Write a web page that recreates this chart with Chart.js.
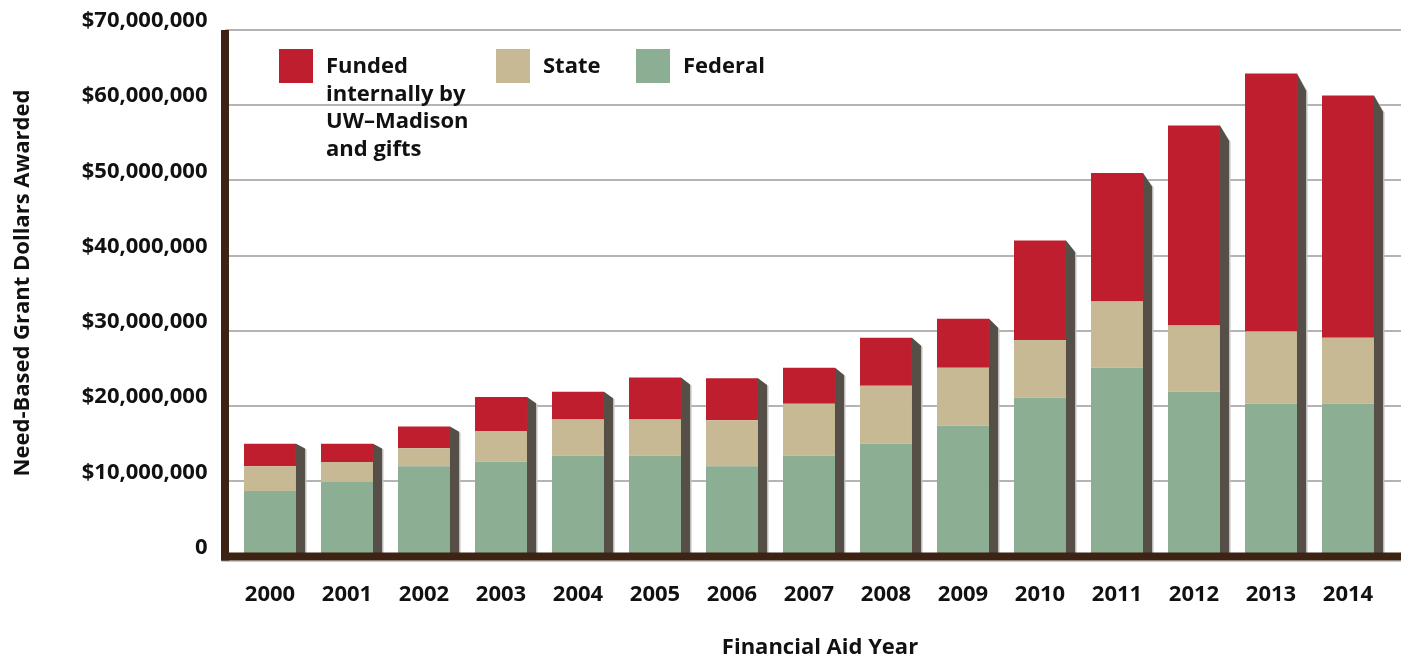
<!DOCTYPE html>
<html>
<head>
<meta charset="utf-8">
<script src="https://cdn.jsdelivr.net/npm/chart.js@4.4.1/dist/chart.umd.min.js"></script>
<style>
  body { margin: 0; background: #fff; }
  canvas { display: block; }
</style>
</head>
<body>
<canvas id="myChart" width="1401" height="658"></canvas>
<script>
// data (dollars)
const years = ['2000', '2001', '2002', '2003', '2004', '2005', '2006', '2007',
               '2008', '2009', '2010', '2011', '2012', '2013', '2014'];
const federal = [8700000, 9900000, 12000000, 12600000, 13400000, 13400000, 12000000, 13400000,
                 15000000, 17400000, 21100000, 25100000, 21900000, 20300000, 20300000];
const state = [3300000, 2650000, 2400000, 4100000, 4800000, 4800000, 6100000, 6900000,
               7700000, 7700000, 7700000, 8800000, 8800000, 9600000, 8800000];
const funded = [3000000, 2450000, 2900000, 4500000, 3700000, 5600000, 5600000, 4800000,
                6400000, 6500000, 13200000, 17100000, 26600000, 34300000, 32200000];
const fundedLabel = ['Funded', 'internally by', 'UW\u2013Madison', 'and gifts'];
const yTicks = [0, 10000000, 20000000, 30000000, 40000000, 50000000, 60000000, 70000000];
const xTitle = 'Financial Aid Year';
const yTitle = 'Need-Based Grant Dollars Awarded';

const FONT = "'Open Sans', 'Noto Sans', sans-serif";
const colors = { funded: '#be1e2d', state: '#c6b994', federal: '#8cae93' };

// grid lines, 3D sides, heavy axes, titles and the legend
const decor = {
  id: 'decor',
  beforeDatasetsDraw(chart) {
    const { ctx, chartArea, scales: { y } } = chart;
    ctx.save();
    ctx.strokeStyle = '#b4b4b4';
    ctx.lineWidth = 2;
    yTicks.forEach(v => {
      if (v === 0) return;
      const py = Math.round(y.getPixelForValue(v));
      ctx.beginPath();
      ctx.moveTo(chartArea.left - 6, py);
      ctx.lineTo(1401, py);
      ctx.stroke();
    });
    ctx.restore();
  },
  afterDatasetsDraw(chart) {
    const { ctx, chartArea, scales: { y } } = chart;
    const base = y.getPixelForValue(0);
    const tops = chart.getDatasetMeta(2).data;
    ctx.save();
    tops.forEach(bar => {
      const r = bar.x + bar.width / 2;
      const drop = (base - bar.y) * 0.033 + 1;
      ctx.fillStyle = '#bdbdbd';
      ctx.beginPath();
      ctx.moveTo(r, bar.y);
      ctx.lineTo(r + 10.5, bar.y + drop + 1);
      ctx.lineTo(r + 10.5, base);
      ctx.lineTo(r, base);
      ctx.closePath();
      ctx.fill();
      ctx.fillStyle = '#554f48';
      ctx.beginPath();
      ctx.moveTo(r, bar.y);
      ctx.lineTo(r + 9, bar.y + drop);
      ctx.lineTo(r + 9, base);
      ctx.lineTo(r, base);
      ctx.closePath();
      ctx.fill();
    });

    // axes
    ctx.fillStyle = '#c8c8c8';
    ctx.fillRect(chartArea.left - 10, base + 4, 1401 - chartArea.left + 10, 1.5);
    ctx.fillStyle = '#3d2314';
    ctx.fillRect(chartArea.left - 10.5, chartArea.top, 8, base + 4 - chartArea.top);
    ctx.fillRect(chartArea.left - 10.5, base - 4, 1401 - chartArea.left + 10.5, 8);

    // axis titles
    ctx.font = 'bold 22px ' + FONT;
    ctx.fillStyle = '#111';
    ctx.textAlign = 'center';
    ctx.textBaseline = 'middle';
    ctx.fillText(xTitle, 820, 648);
    ctx.save();
    ctx.translate(23, 283);
    ctx.rotate(-Math.PI / 2);
    ctx.fillText(yTitle, 0, 0);
    ctx.restore();

    // legend
    const items = [
      { lines: fundedLabel, color: colors.funded, x: 279 },
      { lines: ['State'], color: colors.state, x: 496 },
      { lines: ['Federal'], color: colors.federal, x: 636 }
    ];
    ctx.textBaseline = 'alphabetic';
    ctx.textAlign = 'left';
    items.forEach(it => {
      ctx.fillStyle = it.color;
      ctx.fillRect(it.x, 49, 34, 34);
      ctx.fillStyle = '#111';
      it.lines.forEach((ln, i) => ctx.fillText(ln, it.x + 47, 73 + i * 27.5));
    });
    ctx.restore();
  }
};

const ctx = document.getElementById('myChart').getContext('2d');
const myChart = new Chart(ctx, {
  type: 'bar',
  data: {
    labels: years,
    datasets: [
      { label: 'Federal', data: federal, backgroundColor: colors.federal },
      { label: 'State', data: state, backgroundColor: colors.state },
      { label: fundedLabel.join(' '), data: funded, backgroundColor: colors.funded }
    ]
  },
  options: {
    responsive: false,
    animation: false,
    events: [],
    layout: { padding: { top: 30, right: 14.5, bottom: 0, left: 0 } },
    datasets: { bar: { categoryPercentage: 1, barPercentage: 0.675, borderWidth: 0 } },
    plugins: { legend: { display: false }, tooltip: { enabled: false } },
    scales: {
      x: {
        stacked: true,
        grid: { display: false, drawTicks: false },
        border: { display: false },
        ticks: { color: '#111', padding: 25, font: { family: FONT, size: 22, weight: 'bold' } },
        afterFit(scale) { scale.height = 101.5; }
      },
      y: {
        stacked: true,
        min: 0,
        max: 70000000,
        grid: { display: false, drawTicks: false },
        border: { display: false },
        afterBuildTicks(scale) { scale.ticks = yTicks.map(v => ({ value: v })); },
        ticks: {
          color: '#111',
          padding: 24,
          labelOffset: -9,
          font: { family: FONT, size: 22, weight: 'bold' },
          callback: v => v === 0 ? '0' : '$' + v.toLocaleString('en-US')
        },
        afterFit(scale) {
          scale.width = 231.5;
          scale.paddingTop = 0;
          scale.paddingBottom = 0;
        }
      }
    }
  },
  plugins: [decor]
});
</script>
</body>
</html>
